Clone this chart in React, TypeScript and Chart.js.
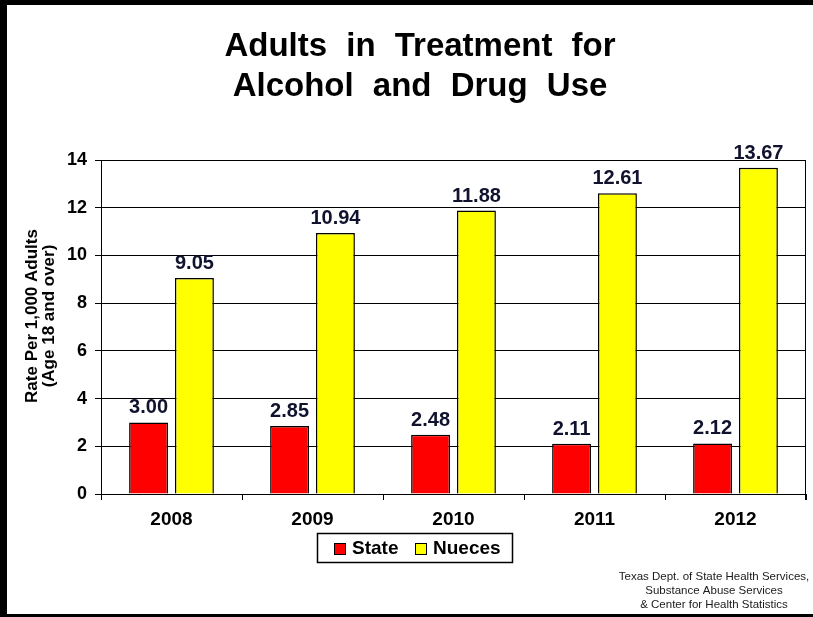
import React, { useEffect, useRef } from "react";
import { Chart, registerables } from "chart.js";

Chart.register(...registerables);

const categories = ["2008", "2009", "2010", "2011", "2012"];
const stateValues = [3.0, 2.85, 2.48, 2.11, 2.12];
const nuecesValues = [9.05, 10.94, 11.88, 12.61, 13.67];
const seriesNames = ["State", "Nueces"];
const seriesColors = ["#ff0000", "#ffff00"];
const titleLines = ["Adults in Treatment for", "Alcohol and Drug Use"];
const yTitleLines = ["Rate Per 1,000 Adults", "(Age 18 and over)"];
const sourceLines = [
  "Texas Dept. of State Health Services,",
  "Substance Abuse Services",
  "& Center for Health Statistics",
];

const FONT = '"Liberation Sans", Arial, sans-serif';
const W = 813;
const H = 617;

const decorPlugin = {
  id: "decor",
  beforeDraw(chart: any) {
    const ctx = chart.ctx;
    ctx.save();
    ctx.fillStyle = "#fff";
    ctx.fillRect(0, 0, W, H);
    ctx.fillStyle = "#000";
    ctx.fillRect(0, 0, W, 5);
    ctx.fillRect(0, 0, 7, H);
    ctx.fillRect(0, 614, W, 3);
    ctx.restore();
  },
  afterDraw(chart: any) {
    const ctx = chart.ctx;
    const area = chart.chartArea;
    ctx.save();
    // right border of plot
    ctx.strokeStyle = "#000";
    ctx.lineWidth = 1;
    ctx.beginPath();
    ctx.moveTo(Math.round(area.right) - 0.5, area.top);
    ctx.lineTo(Math.round(area.right) - 0.5, area.bottom + 6);
    ctx.stroke();

    // data labels
    ctx.font = `bold 20px ${FONT}`;
    ctx.fillStyle = "#10122e";
    ctx.textAlign = "center";
    ctx.textBaseline = "alphabetic";
    chart.data.datasets.forEach((ds: any, di: number) => {
      const meta = chart.getDatasetMeta(di);
      meta.data.forEach((bar: any, i: number) => {
        ctx.fillText(Number(ds.data[i]).toFixed(2), bar.x, bar.y - 9);
      });
    });

    // title
    ctx.fillStyle = "#000";
    ctx.font = `bold 33px ${FONT}`;
    (ctx as any).wordSpacing = "10px";
    ctx.fillText(titleLines[0], 420, 56);
    ctx.fillText(titleLines[1], 420, 96);
    (ctx as any).wordSpacing = "0px";

    // y axis title
    ctx.save();
    ctx.translate(32, 316);
    ctx.rotate(-Math.PI / 2);
    ctx.font = `bold 17px ${FONT}`;
    ctx.textBaseline = "middle";
    ctx.fillText(yTitleLines[0], 0, 0);
    ctx.fillText(yTitleLines[1], 0, 17);
    ctx.restore();

    // legend
    ctx.lineWidth = 1.5;
    ctx.strokeStyle = "#000";
    ctx.strokeRect(317.5, 533.5, 195, 29);
    ctx.font = `bold 19px ${FONT}`;
    ctx.textAlign = "left";
    ctx.textBaseline = "middle";
    const lx = [334, 415];
    seriesNames.forEach((name, i) => {
      ctx.fillStyle = seriesColors[i];
      ctx.fillRect(lx[i], 543, 11, 11);
      ctx.lineWidth = 1;
      ctx.strokeRect(lx[i] + 0.5, 543.5, 11, 11);
      ctx.fillStyle = "#000";
      ctx.fillText(name, lx[i] + 18, 549);
    });

    // source
    ctx.font = `11.5px ${FONT}`;
    ctx.fillStyle = "#1a1a1a";
    ctx.textAlign = "center";
    sourceLines.forEach((s, i) => ctx.fillText(s, 714, 577 + i * 14));
    ctx.restore();
  },
};

export default function App() {
  const ref = useRef<HTMLCanvasElement>(null);
  useEffect(() => {
    if (!ref.current) return;
    const chart = new Chart(ref.current, {
      type: "bar",
      data: {
        labels: categories,
        datasets: [
          {
            label: seriesNames[0],
            data: stateValues,
            backgroundColor: seriesColors[0],
            borderColor: "#000",
            borderWidth: 1.5,
          },
          {
            label: seriesNames[1],
            data: nuecesValues,
            backgroundColor: seriesColors[1],
            borderColor: "#000",
            borderWidth: 1.5,
          },
        ],
      },
      options: {
        responsive: false,
        animation: false,
        devicePixelRatio: 1,
        layout: { padding: { top: 160, left: 0, right: 7, bottom: 0 } },
        plugins: {
          legend: { display: false },
          title: { display: false },
          tooltip: { enabled: false },
        },
        datasets: {
          bar: { categoryPercentage: 0.65, barPercentage: 0.85 },
        },
        scales: {
          x: {
            afterFit: (s: any) => {
              s.height = 123;
            },
            grid: {
              display: true,
              drawOnChartArea: false,
              drawTicks: true,
              tickLength: 6,
              color: "#000",
              offset: true,
            },
            border: { display: true, color: "#000", width: 1 },
            ticks: {
              color: "#000",
              padding: 8,
              font: { family: FONT, size: 19, weight: "bold" },
            },
          },
          y: {
            min: 0,
            max: 14,
            afterFit: (s: any) => {
              s.width = 101;
            },
            grid: {
              color: "#000",
              lineWidth: 1,
              drawTicks: true,
              tickLength: 6,
            },
            border: { display: true, color: "#000", width: 1 },
            ticks: {
              stepSize: 2,
              color: "#000",
              padding: 8,
              font: { family: FONT, size: 18, weight: "bold" },
            },
          },
        },
      },
      plugins: [decorPlugin],
    } as any);
    return () => chart.destroy();
  }, []);
  return (
    <div style={{ position: "absolute", left: 0, top: 0, width: W, height: H }}>
      <canvas ref={ref} width={W} height={H} style={{ width: W, height: H, display: "block" }} />
    </div>
  );
}
